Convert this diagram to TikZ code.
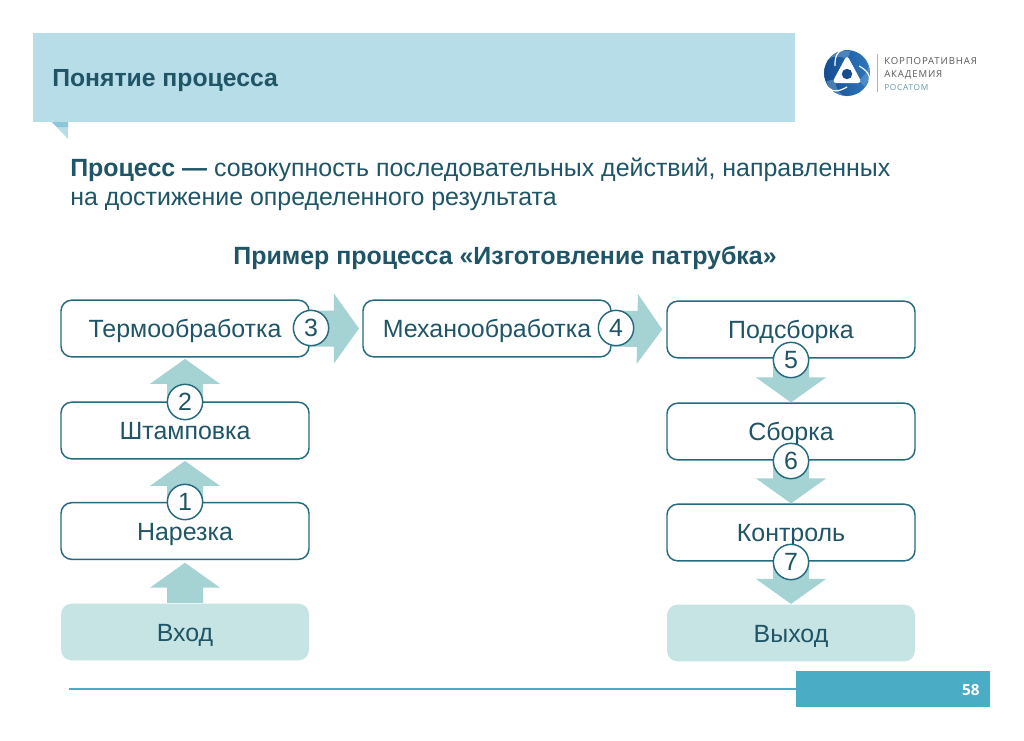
\documentclass[tikz,border=0pt]{standalone}
\usepackage{fontspec}
\setmainfont{Liberation Sans}
\newfontfamily\logofont[LetterSpace=9]{Open Sans}
\newfontfamily\numfont{Open Sans}
\usetikzlibrary{calc}
\definecolor{band}{HTML}{B7DDE8}
\definecolor{tabdark}{HTML}{8CC6D9}
\definecolor{tablight}{HTML}{B7DDE8}
\definecolor{ink}{HTML}{1F5566}
\definecolor{edge}{HTML}{266A80}
\definecolor{arrowc}{HTML}{A5D3D3}
\definecolor{soft}{HTML}{C6E4E4}
\definecolor{foot}{HTML}{4BACC6}
\definecolor{logoa}{HTML}{2F78BE}
\definecolor{logob}{HTML}{164C90}
\tikzset{
  x=0.75pt,y=-0.75pt,
  stepbox/.style={draw=edge,line width=1.1pt,rounded corners=8pt,fill=white,minimum width=186pt,minimum height=42.5pt,inner sep=0pt,text=ink,text height=13.5pt,text depth=0pt,font=\fontsize{18.7}{20}\selectfont},
  endbox/.style={stepbox,draw=none,fill=soft},
  badge/.style={circle,draw=edge,line width=1.1pt,fill=white,minimum size=26.5pt,inner sep=0pt,text=ink,font=\fontsize{18.7}{20}\selectfont},
  blockarrow/.style={fill=arrowc,draw=none},
  plain/.style={anchor=base west,inner sep=0pt,text=ink,font=\fontsize{18.7}{20}\selectfont}
}
% start, end, gap at tip
\newcommand{\blockarrow}[3]{%
  \coordinate (tip) at ($(#2)!#3!(#1)$);
  \coordinate (neck) at ($(tip)!18.75pt!(#1)$);
  \fill[blockarrow] ($(#1)!13.5pt!90:(tip)$) -- ($(neck)!13.5pt!90:(tip)$) -- ($(neck)!26.25pt!90:(tip)$) -- (tip)
     -- ($(neck)!26.25pt!-90:(tip)$) -- ($(neck)!13.5pt!-90:(tip)$) -- ($(#1)!13.5pt!-90:(tip)$) -- cycle;
}
\begin{document}
\begin{tikzpicture}
\useasboundingbox (0,0) rectangle (1024,740);
\fill[white] (0,0) rectangle (1024,740);
% header
\fill[band] (33,33) rectangle (795,122);
\fill[tablight] (52,122) -- (68,122) -- (68,139) -- cycle;
\fill[tabdark] (52,122) -- (68,122) -- (68,127) -- (57,127) -- cycle;
\node[plain,font=\fontsize{18.55}{20}\selectfont\bfseries] (title) at (52,86.5) {Понятие процесса};
% logo
\shade[left color=logob,right color=logoa] (847,73) circle (17.25pt);
\foreach \a in {90,210,330}{
  \begin{scope}[shift={(847,73)},rotate=\a]
    \fill[logoa!70!white,opacity=.55] (14,0) .. controls (18,-10) and (17,-18) .. (10,-21) .. controls (19,-16) and (24,-6) .. (22,3) .. controls (20,3) and (17,2) .. (14,0) -- cycle;
  \end{scope}
}
\foreach \a in {-90,30,150}{
  \begin{scope}[shift={(847,73)},rotate=\a]
    \draw[white,line width=0.9pt] (14,0) .. controls (18,7) and (20,14) .. (15,18);
  \end{scope}
}
\fill[white,rounded corners=3pt] (847,55) -- (862,83) -- (832,83) -- cycle;
\fill[logob] (847,74) circle (3.9pt);
\draw[gray!60,line width=0.7pt] (877,54) -- (877,92);
\node[plain,text=black!65,font=\logofont\fontsize{7.2}{8}\selectfont] (logo1) at (884,64.5) {КОРПОРАТИВНАЯ};
\node[plain,text=black!65,font=\logofont\fontsize{7.2}{8}\selectfont] (logo2) at (884,77) {АКАДЕМИЯ};
\node[plain,text=edge!70,font=\logofont\fontsize{6.2}{8}\selectfont] (logo3) at (884,90) {РОСАТОМ};
% texts
\node[plain] (def1) at (70,176) {\textbf{Процесс —} совокупность последовательных действий, направленных};
\node[plain] (def2) at (70,205.5) {на достижение определенного результата};
\node[plain,anchor=base,font=\fontsize{18.7}{20}\selectfont\bfseries] (sub) at (505,264) {Пример процесса «Изготовление патрубка»};
% boxes
\node[stepbox] (thermo) at (185,328.5) {Термообработка};
\node[stepbox] (stamp) at (185,430.5) {Штамповка};
\node[stepbox] (cut) at (185,531) {Нарезка};
\node[endbox] (in) at (185,632) {Вход};
\node[stepbox] (mech) at (487,328.5) {Механообработка};
\node[stepbox] (pre) at (791,329.5) {Подсборка};
\node[stepbox] (asm) at (791,431.5) {Сборка};
\node[stepbox] (ctrl) at (791,532.5) {Контроль};
\node[endbox] (out) at (791,633) {Выход};
% arrows
\blockarrow{in.north}{cut.south}{2pt}
\blockarrow{cut.north}{stamp.south}{1pt}
\blockarrow{stamp.north}{thermo.south}{1pt}
\blockarrow{thermo.east}{mech.west}{2.5pt}
\blockarrow{mech.east}{pre.west}{3pt}
\blockarrow{pre.south}{asm.north}{0pt}
\blockarrow{asm.south}{ctrl.north}{0pt}
\blockarrow{ctrl.south}{out.north}{0pt}
% badges
\node[badge] (b1) at (185,502) {1};
\node[badge] (b2) at (185,402) {2};
\node[badge] (b3) at (311,328) {3};
\node[badge] (b4) at (616,328) {4};
\node[badge] (b5) at (791,360) {5};
\node[badge] (b6) at (791,461) {6};
\node[badge] (b7) at (791,562) {7};
% footer
\fill[foot] (796,671) rectangle (990,707);
\node[anchor=east,inner sep=0pt,text=white,font=\numfont\bfseries\fontsize{11.5}{12}\selectfont] (page) at (980,690) {58};
\coordinate (rule) at (69,689);
\draw[foot,line width=0.9pt] (rule) -- (796,689);
\end{tikzpicture}
\end{document}
